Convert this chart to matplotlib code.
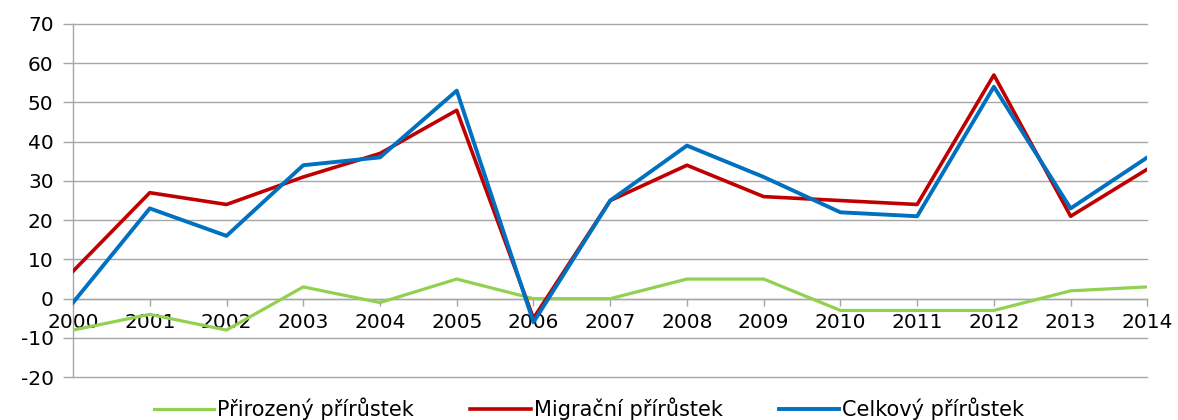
import numpy as np
import matplotlib.pyplot as plt

# Data
years = list(range(2000, 2015))
prirozeny = [-8, -4, -8, 3, -1, 5, 0, 0, 5, 5, -3, -3, -3, 2, 3]
migracni = [7, 27, 24, 31, 37, 48, -5, 25, 34, 26, 25, 24, 57, 21, 33]
celkovy = [-1, 23, 16, 34, 36, 53, -6, 25, 39, 31, 22, 21, 54, 23, 36]

plt.rcParams['font.family'] = ['DejaVu Sans']
plt.rcParams['axes.unicode_minus'] = False

fig = plt.figure(figsize=(11.78, 4.2), dpi=100)
ax = fig.add_axes([0.062, 0.102, 0.912, 0.841])

grid_col = '#a6a6a6'

ax.plot(years, prirozeny, color='#92d050', linewidth=2.3, label='Přirozený přírůstek', zorder=3)
ax.plot(years, migracni, color='#c00000', linewidth=2.6, label='Migrační přírůstek', zorder=3)
ax.plot(years, celkovy, color='#0070c0', linewidth=2.8, label='Celkový přírůstek', zorder=4)

ax.set_xlim(2000, 2014)
ax.set_ylim(-20, 70)
ax.set_yticks(np.arange(-20, 71, 10))
ax.set_xticks(years)

ax.grid(axis='y', color=grid_col, linewidth=1.0)
ax.set_axisbelow(True)
for gl in ax.get_ygridlines():
    gl.set_clip_on(False)

# x axis sits on zero
ax.spines['bottom'].set_position(('data', 0))
ax.spines['bottom'].set_color(grid_col)
ax.spines['left'].set_color(grid_col)
ax.spines['bottom'].set_linewidth(1.0)
ax.spines['left'].set_linewidth(1.0)
ax.spines['top'].set_visible(False)
ax.spines['right'].set_visible(False)

ax.tick_params(axis='x', direction='out', length=5, color=grid_col, width=1.0,
               labelsize=14.5, pad=5)
ax.tick_params(axis='y', direction='out', length=7, color=grid_col, width=1.0,
               labelsize=14.5, pad=7)

fig.legend(loc='lower center', ncol=3, frameon=False, fontsize=15,
           handlelength=2.9, columnspacing=2.7, handletextpad=0.15,
           bbox_to_anchor=(0.5, -0.045))

fig.savefig('out.png', dpi=100)
